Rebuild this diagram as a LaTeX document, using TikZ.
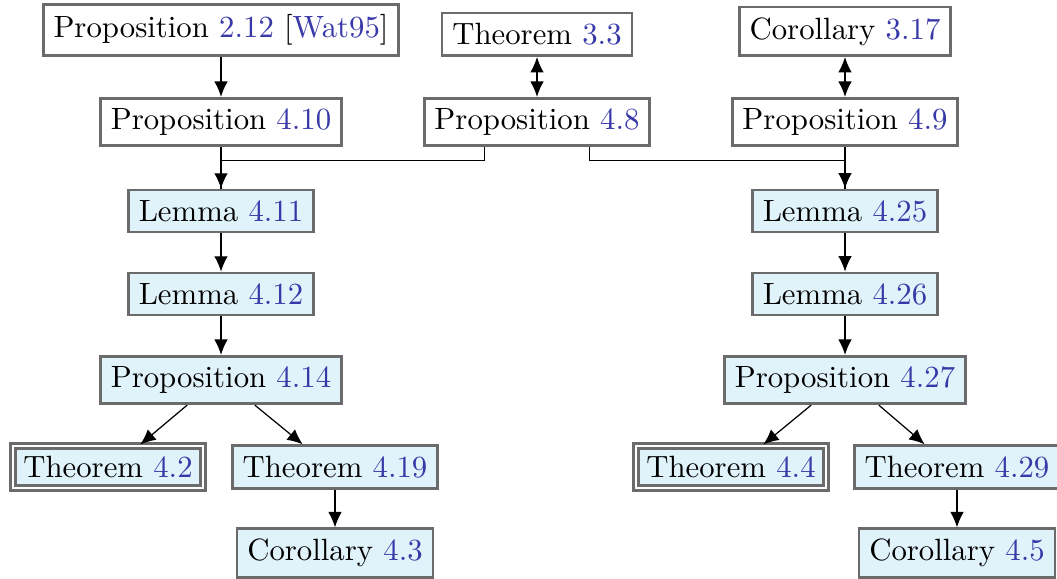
\documentclass[tikz,border=0pt]{standalone}
\usetikzlibrary{calc,arrows.meta}
\definecolor{frame}{HTML}{6B6B6B}
\definecolor{result}{HTML}{E1F3FA}
\definecolor{linkblue}{HTML}{3838A8}
\newcommand{\rf}[1]{\textcolor{linkblue}{#1}}

\begin{document}
\begin{tikzpicture}[x=0.325pt,y=-0.325pt,>={Latex[length=5pt,width=4.4pt]},
  plainbox/.style={draw=frame,line width=0.9pt,fill=white},
  resbox/.style={plainbox,fill=result},
  mainbox/.style={resbox,double=white,double distance=0.6pt},
  arr/.style={->,black}]
  \useasboundingbox (0,0) rectangle (1057,579);
  % ----- known results -----
  \node[plainbox,anchor=south] (p212) at (221,57){Proposition \rf{2.12} [\rf{Wat95}]};
  \node[plainbox,anchor=south] (t33) at (537,57){Theorem \rf{3.3}};
  \node[plainbox,anchor=south] (c317) at (845,57){Corollary \rf{3.17}};
  \node[plainbox] (p410) at (221,122){Proposition \rf{4.10}};
  \node[plainbox] (p48) at (537,122){Proposition \rf{4.8}};
  \node[plainbox] (p49) at (845,122){Proposition \rf{4.9}};
  % ----- left branch -----
  \node[resbox] (l411) at (221,211){Lemma \rf{4.11}};
  \node[resbox] (l412) at (221,294){Lemma \rf{4.12}};
  \node[resbox] (p414) at (221,380){Proposition \rf{4.14}};
  \node[mainbox] (t42) at (108,467){Theorem \rf{4.2}};
  \node[resbox] (t419) at (335,467){Theorem \rf{4.19}};
  \node[resbox] (c43) at (335,553){Corollary \rf{4.3}};
  % ----- right branch -----
  \node[resbox] (l425) at (845,211){Lemma \rf{4.25}};
  \node[resbox] (l426) at (845,294){Lemma \rf{4.26}};
  \node[resbox] (p427) at (845,380){Proposition \rf{4.27}};
  \node[mainbox] (t44) at (731,467){Theorem \rf{4.4}};
  \node[resbox] (t429) at (957,467){Theorem \rf{4.29}};
  \node[resbox] (c45) at (957,553){Corollary \rf{4.5}};
  % ----- connectors -----
  \draw[arr] (p212) -- (p410);
  \draw[<->] (t33) -- (p48);
  \draw[<->] (c317) -- (p49);
  \draw[arr] (p410) -- (l411);
  \draw ([xshift=-17pt]p48.south) -- ++(0,13) -| (l411.north);
  \draw ([xshift=17pt]p48.south) -- ++(0,13) -| (l425.north);
  \draw[arr] (p49) -- (l425);
  \draw[arr] (l411) -- (l412);
  \draw[arr] (l412) -- (p414);
  \draw[arr] ([xshift=-11pt]p414.south) -- ([xshift=10.5pt]t42.north);
  \draw[arr] ([xshift=11pt]p414.south) -- ([xshift=-10.5pt]t419.north);
  \draw[arr] (t419) -- (c43);
  \draw[arr] (l425) -- (l426);
  \draw[arr] (l426) -- (p427);
  \draw[arr] ([xshift=-11pt]p427.south) -- ([xshift=10.5pt]t44.north);
  \draw[arr] ([xshift=11pt]p427.south) -- ([xshift=-10.5pt]t429.north);
  \draw[arr] (t429) -- (c45);
\end{tikzpicture}
\end{document}
